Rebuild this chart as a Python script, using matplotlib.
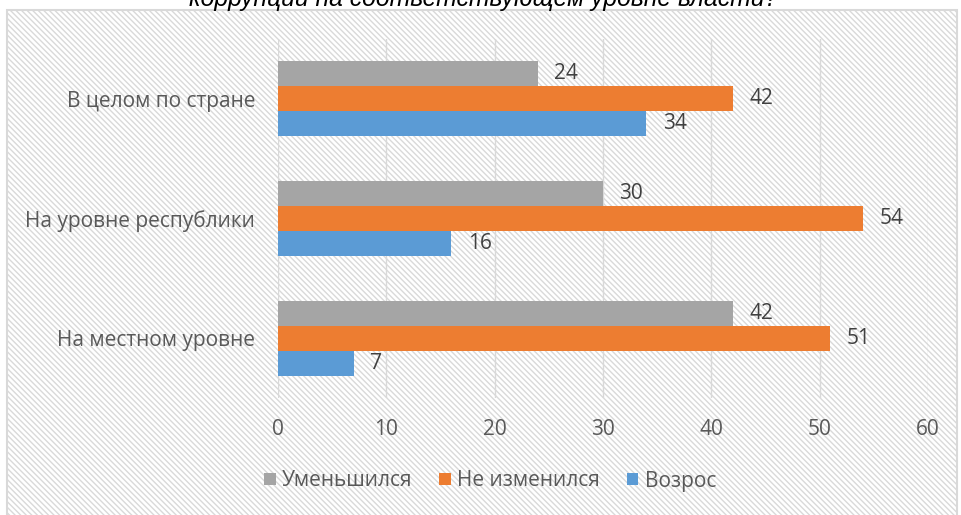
import numpy as np
import matplotlib
matplotlib.use("Agg")
import matplotlib.pyplot as plt
from matplotlib.patches import Rectangle

# Данные
categories = ["На местном уровне", "На уровне республики", "В целом по стране"]
decreased = [42, 30, 24]
unchanged = [51, 54, 42]
increased = [7, 16, 34]
series_names = ["Уменьшился", "Не изменился", "Возрос"]
colors = ["#A5A5A5", "#ED7D31", "#5B9BD5"]
x_ticks = [0, 10, 20, 30, 40, 50, 60]
title = "коррупции на соответствующем уровне власти?"

plt.rcParams["font.family"] = ["Open Sans", "DejaVu Sans"]
plt.rcParams["hatch.color"] = "#d6d6d6"
plt.rcParams["hatch.linewidth"] = 1.0

fig = plt.figure(figsize=(9.61, 5.15), dpi=100)

# Фон диаграммы с диагональной штриховкой и рамкой
bg = Rectangle((7 / 961, -0.01), 950 / 961, 1 - 10 / 515 + 0.01,
               transform=fig.transFigure, facecolor="white",
               edgecolor="#d9d9d9", hatch="\\\\\\\\\\\\", linewidth=0, zorder=-2)
fig.patches.append(bg)
frame = Rectangle((7 / 961, -0.01), 950 / 961, 1 - 10 / 515 + 0.01,
                  transform=fig.transFigure, facecolor="none",
                  edgecolor="#d9d9d9", linewidth=1.5, zorder=-1)
fig.patches.append(frame)

# Обрезанный заголовок
fig.text(0.503, 1 - 6 / 515, title, ha="center", va="baseline",
         fontsize=17.8, style="italic", family="Liberation Sans", color="black")

ax = fig.add_axes([278 / 961, 1 - 398 / 515, 650 / 961, 359 / 515])
ax.patch.set_alpha(0)

y = np.arange(len(categories))
h = 0.208
data = [decreased, unchanged, increased]
offsets = [h, 0, -h]
for vals, name, col, off in zip(data, series_names, colors, offsets):
    bars = ax.barh(y + off, vals, height=h, color=col, label=name, zorder=3)
    for b, v in zip(bars, vals):
        ax.text(b.get_width() + 1.5, b.get_y() + b.get_height() / 2, str(v),
                va="center", ha="left", fontsize=15, color="#404040")

ax.set_xlim(0, 60)
ax.set_ylim(-0.5, len(categories) - 0.5)
ax.set_xticks(x_ticks)
ax.set_yticks(y)
ax.set_yticklabels(categories)
ax.tick_params(axis="both", length=0, labelsize=15, colors="#595959")
ax.tick_params(axis="x", pad=15)
ax.tick_params(axis="y", pad=16.5)
ax.grid(axis="x", color="#d9d9d9", linewidth=1, zorder=0)
for s in ax.spines.values():
    s.set_visible(False)

leg = fig.legend(loc="center", bbox_to_anchor=(0.51, 1 - 481 / 515), ncol=3,
                 frameon=False, fontsize=15, handlelength=0.55,
                 handleheight=0.55, handletextpad=0.3, columnspacing=1.3)
for t in leg.get_texts():
    t.set_color("#595959")

fig.savefig("out.png", dpi=100)
